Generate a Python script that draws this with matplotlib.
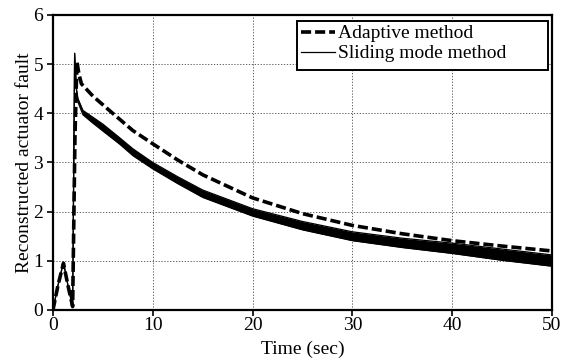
import numpy as np
import matplotlib
matplotlib.use("Agg")
import matplotlib.pyplot as plt
from matplotlib.patches import Rectangle

plt.rcParams['font.family'] = ['Liberation Serif', 'DejaVu Serif']

# adaptive observer estimate
t_adaptive = [0, 0.5, 1.05, 1.5, 1.97, 2.2, 2.4, 2.6, 2.85, 4, 5.7, 8, 10,
              12.5, 15, 20, 25, 30, 35, 40, 45, 50]
f_adaptive = [0, 0.5, 0.95, 0.5, 0.07, 3.5, 5.05, 4.8, 4.6, 4.35, 4.05, 3.65,
              3.38, 3.05, 2.75, 2.28, 1.96, 1.72, 1.55, 1.41, 1.3, 1.2]

# sliding mode observer estimate (chattering band: upper / lower edge)
t_sliding = [0, 0.5, 1.05, 1.5, 1.97, 2.17, 2.35, 2.5, 3.0, 4, 5, 6.7, 8, 10,
             12.5, 15, 20, 25, 30, 35, 40, 45, 50]
f_sliding_hi = [0, 0.5, 0.97, 0.5, 0.05, 5.22, 4.5, 4.3, 4.06, 3.92, 3.78,
                3.5, 3.28, 3.0, 2.71, 2.44, 2.06, 1.8, 1.59, 1.46, 1.36,
                1.24, 1.12]
f_sliding_lo = [0, 0.5, 0.97, 0.5, 0.05, 5.22, 4.47, 4.23, 3.97, 3.8, 3.64,
                3.37, 3.14, 2.87, 2.57, 2.29, 1.91, 1.63, 1.41, 1.27, 1.15,
                1.01, 0.89]

x_ticks = [0, 10, 20, 30, 40, 50]
y_ticks = [0, 1, 2, 3, 4, 5, 6]

fig = plt.figure(figsize=(5.63, 3.64), dpi=100)
ax = fig.add_axes([0.0941, 0.1484, 0.8864, 0.8104])

ax.grid(True, color='#444444', linestyle=(0, (1.5, 2)), linewidth=0.6)
ax.set_axisbelow(True)

ax.fill_between(t_sliding, f_sliding_lo, f_sliding_hi, color='black',
                linewidth=0)
ax.plot(t_sliding, f_sliding_hi, color='black', linewidth=0.9,
        label='Sliding mode method')
ax.plot(t_sliding, f_sliding_lo, color='black', linewidth=0.9)
ax.plot(t_adaptive, f_adaptive, color='black', linewidth=2.6,
        dashes=(2.8, 1.1), label='Adaptive method')

ax.set_xlim(0, 50)
ax.set_ylim(0, 6)
ax.set_xticks(x_ticks)
ax.set_yticks(y_ticks)
ax.tick_params(direction='out', length=4, width=1.2, labelsize=14,
               colors='black')
ax.tick_params(axis='x', pad=1)
ax.tick_params(axis='y', pad=3)
for sp in ax.spines.values():
    sp.set_linewidth(1.6)

ax.set_xlabel('Time (sec)', fontsize=14, labelpad=5)
ax.set_ylabel('Reconstructed actuator fault', fontsize=14, labelpad=0)

# legend box is wider than its contents, so draw it separately
box = Rectangle((0.489, 0.814), 0.503, 0.166, transform=ax.transAxes,
                facecolor='white', edgecolor='black', linewidth=1.4,
                zorder=5)
ax.add_patch(box)

handles, labels = ax.get_legend_handles_labels()
leg = ax.legend(handles[::-1], labels[::-1], loc='upper left',
                bbox_to_anchor=(0.489, 0.98), fontsize=14, frameon=False,
                borderpad=0.2, handlelength=1.75, handletextpad=0.15,
                labelspacing=0.12, borderaxespad=0.0)
leg.set_zorder(6)

fig.savefig('out.png', dpi=100)
